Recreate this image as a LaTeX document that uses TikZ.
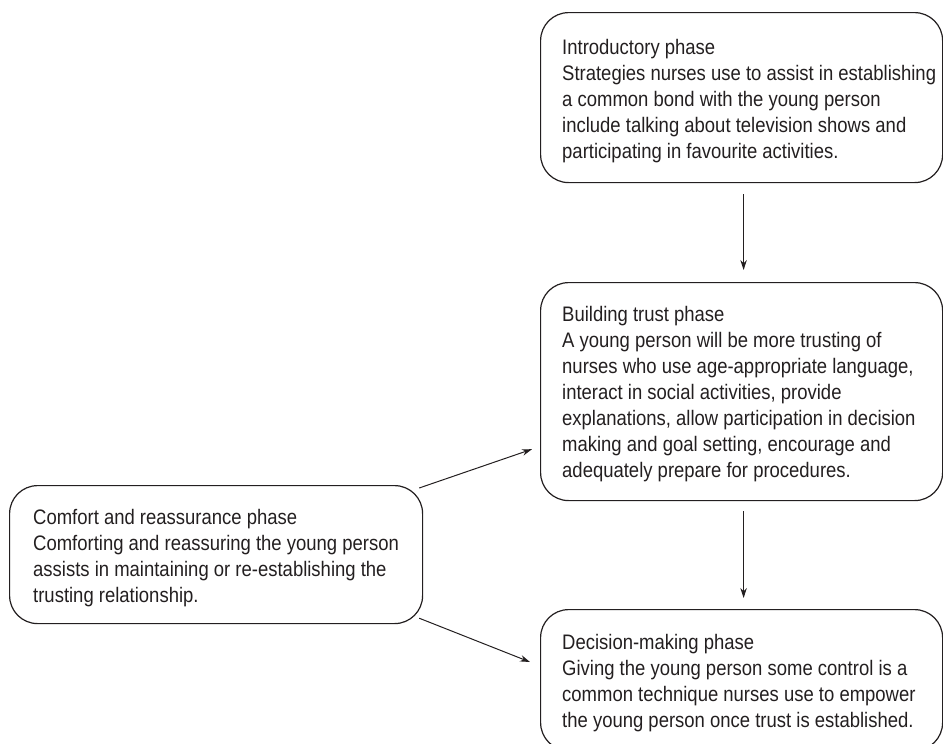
\documentclass[tikz,border=0pt]{standalone}
\usepackage{fontspec}
\setmainfont{Liberation Sans}[FakeStretch=0.88]
\usetikzlibrary{arrows.meta}
\definecolor{ink}{RGB}{35,31,32}
\begin{document}
\begin{tikzpicture}[x=1pt,y=-1pt,
  phase/.style={draw=ink, line width=1.2pt, rounded corners=28pt,
    inner sep=0pt, anchor=north west},
  phasetext/.style={text=ink, inner sep=0pt, anchor=base west, align=left,
    font=\fontsize{21pt}{26pt}\selectfont},
  arr/.style={draw=ink, line width=1pt, -{Stealth[length=10pt,width=6.5pt]}}]
\useasboundingbox (0,0) rectangle (943,744);

% phase boxes
\node[phase, minimum width=402pt, minimum height=170pt] (intro) at (540,12) {};
\node[phase, minimum width=402pt, minimum height=218pt] (trust) at (540,282) {};
\node[phase, minimum width=402pt, minimum height=141pt] (decision) at (540,609) {};
\node[phase, minimum width=413pt, minimum height=138pt] (comfort) at (9,485) {};

% box texts (placed by the baseline of their last line)
\node[phasetext] (introtext) at (562,158) {Introductory phase\\
Strategies nurses use to assist in establishing\\
a common bond with the young person\\
include talking about television shows and\\
participating in favourite activities.};

\node[phasetext] (trusttext) at (562,477) {Building trust phase\\
A young person will be more trusting of\\
nurses who use age-appropriate language,\\
interact in social activities, provide\\
explanations, allow participation in decision\\
making and goal setting, encourage and\\
adequately prepare for procedures.};

\node[phasetext] (decisiontext) at (562,727) {Decision-making phase\\
Giving the young person some control is a\\
common technique nurses use to empower\\
the young person once trust is established.};

\node[phasetext] (comforttext) at (33,602) {Comfort and reassurance phase\\
Comforting and reassuring the young person\\
assists in maintaining or re-establishing the\\
trusting relationship.};

% connectors
\draw[arr] ([xshift=2pt,yshift=-11pt]intro.south) -- ([xshift=2pt,yshift=12pt]trust.north);
\draw[arr] ([xshift=2pt,yshift=-10pt]trust.south) -- ([xshift=2pt,yshift=11pt]decision.north);
\draw[arr] ([xshift=-4pt,yshift=-3pt]comfort.north east) -- ([xshift=-8pt,yshift=52pt]trust.south west);
\draw[arr] ([xshift=-4pt,yshift=6pt]comfort.south east) -- ([xshift=-10pt,yshift=-53pt]decision.north west);
\end{tikzpicture}
\end{document}
